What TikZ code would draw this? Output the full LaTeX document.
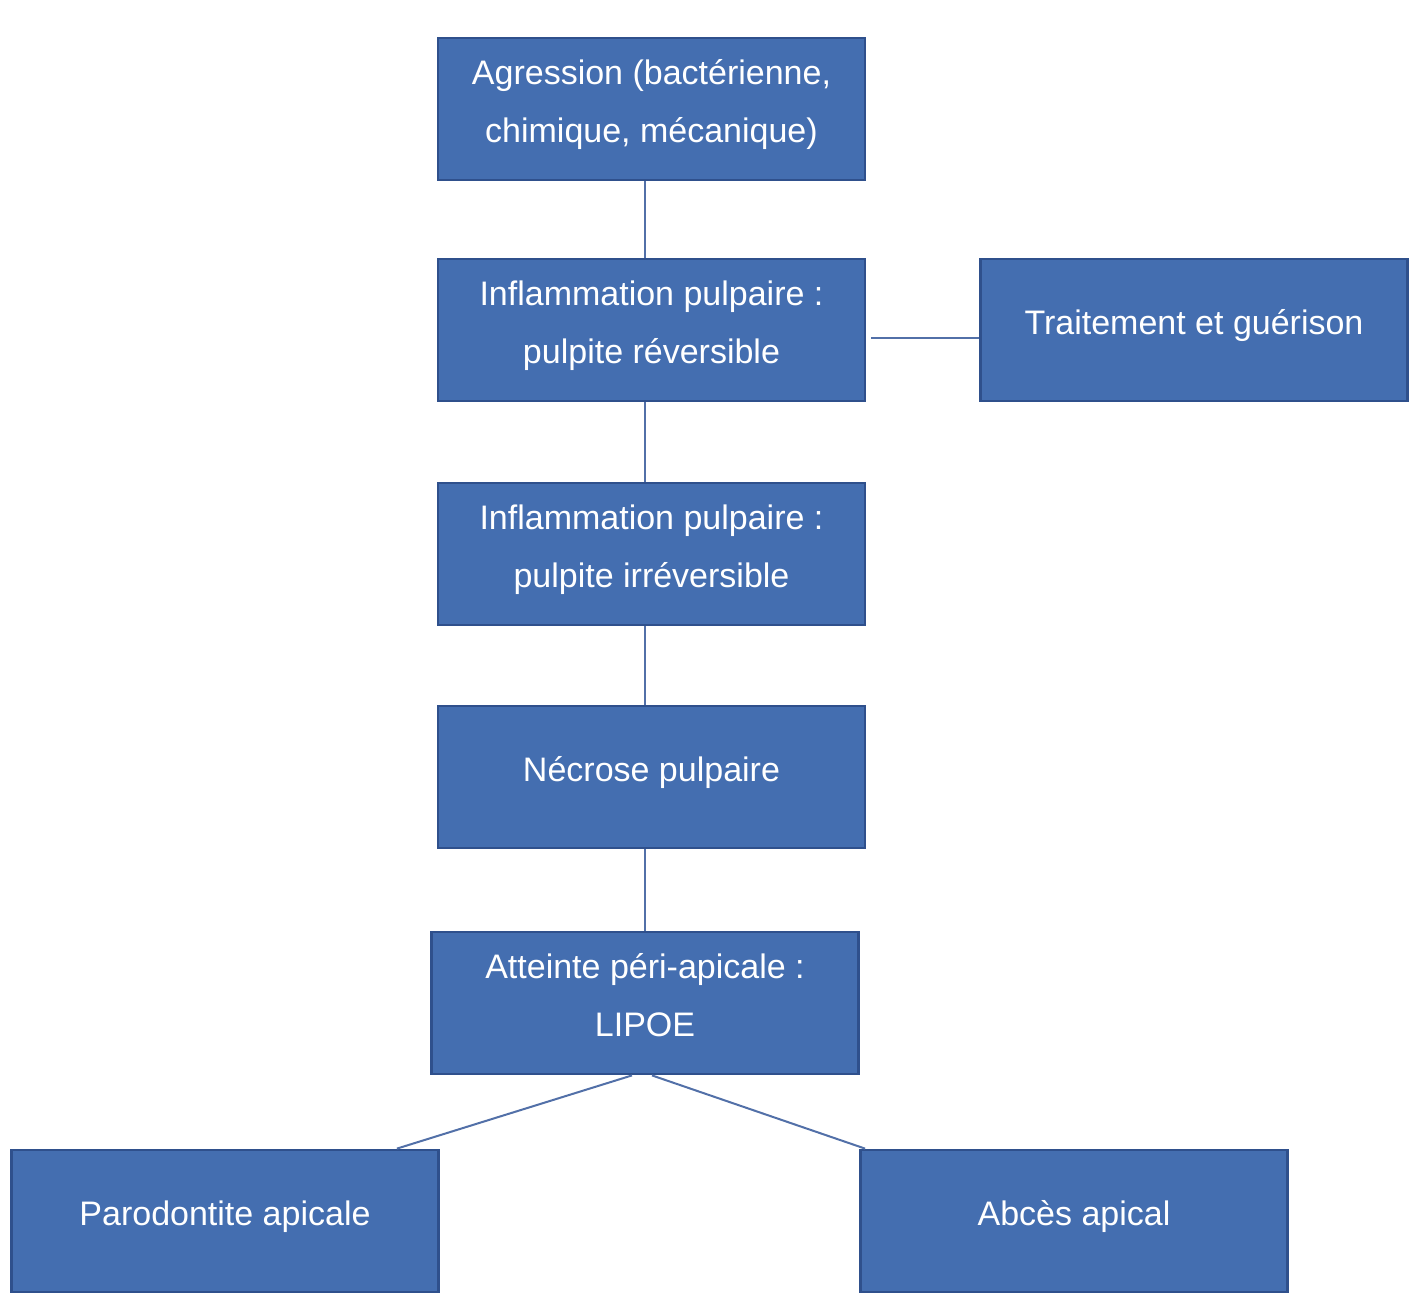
\documentclass[tikz,border=0pt]{standalone}
\usepackage{fontspec}
\setmainfont{Liberation Sans}
\usepackage{tikz}
\usetikzlibrary{positioning, calc}
\definecolor{boxfill}{RGB}{68,110,176}
\definecolor{boxline}{RGB}{47,80,140}
\definecolor{linkcol}{RGB}{82,112,168}

\begin{document}
\begin{tikzpicture}[x=0.5pt, y=-0.5pt,
    font=\fontsize{17}{29}\selectfont,
    etape/.style={draw=boxline, line width=1.4pt, fill=boxfill, text=white,
        minimum width=213.5pt, minimum height=71pt, inner sep=0pt, align=center,
        execute at end node={\rule[-8pt]{0pt}{0pt}}},
    lien/.style={draw=linkcol, line width=1pt}]
    \useasboundingbox (0,0) rectangle (1410,1314);
    % Colonne principale
    \node[etape] (agr) at (651.5,109) {Agression (bactérienne,\\chimique, mécanique)};
    \node[etape] (rev) at (651.5,330) {Inflammation pulpaire :\\pulpite réversible};
    \node[etape] (irr) at (651.5,554) {Inflammation pulpaire :\\pulpite irréversible};
    \node[etape] (nec) at (651.5,777) {Nécrose pulpaire};
    \node[etape] (lip) at (645,1003) {Atteinte péri-apicale :\\LIPOE};
    % Branche droite
    \node[etape] (trt) at (1194,330) {Traitement et guérison};
    % Issues
    \node[etape] (par) at (225,1221) {Parodontite apicale};
    \node[etape] (abc) at (1074,1221) {Abcès apical};
    % Liens
    \foreach \a/\b in {agr/rev, rev/irr, irr/nec, nec/lip} {
        \path[lien] ($(\a.south)+(-6.5,0)$) coordinate (h) -- (h |- \b.north);
    }
    \path[lien] ($(rev.east)+(5,8)$) -- ($(trt.west)+(0,8)$);
    \path[lien] ($(lip.south)+(-13,0)$) -- ($(par.north east)+(-43,0)$);
    \path[lien] ($(lip.south)+(7,0)$) -- ($(abc.north west)+(6,0)$);
\end{tikzpicture}
\end{document}
